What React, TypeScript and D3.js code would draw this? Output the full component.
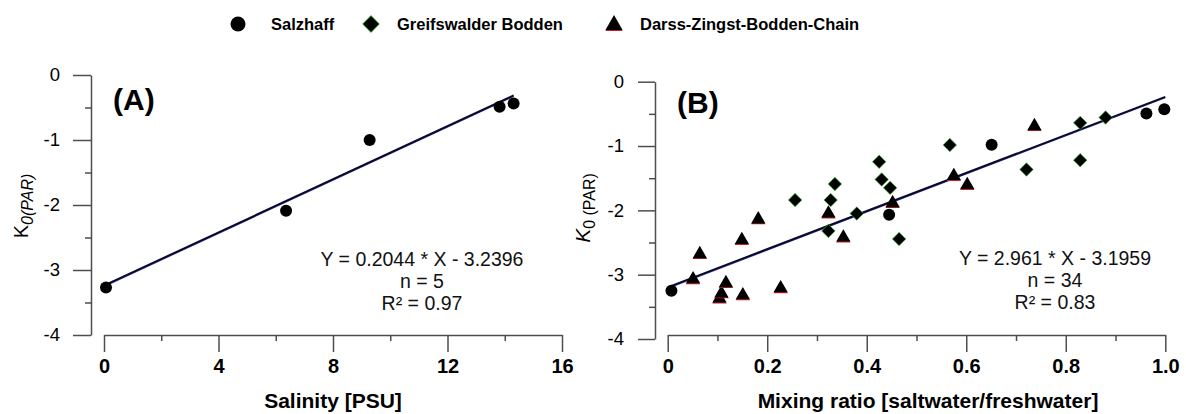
import React, { useEffect, useRef } from 'react';
import * as d3 from 'd3';

// panel A: Salzhaff, salinity vs K0(PAR)
const salinityA = [0.07, 6.36, 9.28, 13.82, 14.31];
const kA = [-3.27, -2.09, -1.0, -0.49, -0.44];

// panel B: mixing ratio vs K0(PAR), three lagoons
const salzhaffMix = [0.0075, 0.445, 0.651, 0.962, 0.998];
const salzhaffK = [-3.25, -2.07, -0.98, -0.495, -0.43];

const greifMix = [0.256, 0.323, 0.3275, 0.336, 0.38, 0.425, 0.43, 0.447, 0.465, 0.567, 0.721, 0.829, 0.829, 0.88];
const greifK = [-1.84, -2.32, -1.84, -1.59, -2.05, -1.245, -1.52, -1.65, -2.446, -0.984, -1.365, -1.22, -0.64, -0.557];

const darssMix = [0.051, 0.0645, 0.104, 0.108, 0.117, 0.149, 0.151, 0.182, 0.227, 0.323, 0.353, 0.452, 0.575, 0.602, 0.737];
const darssK = [-3.07, -2.68, -3.37, -3.29, -3.13, -2.46, -3.32, -2.14, -3.21, -2.047, -2.42, -1.886, -1.465, -1.605, -0.69];

const legendLabels = ['Salzhaff', 'Greifswalder Bodden', 'Darss-Zingst-Bodden-Chain'];

// regressions
const regA = { slope: 0.2044, intercept: -3.2396, label: 'Y = 0.2044 * X - 3.2396', n: 'n = 5', r2: 'R² = 0.97' };
const regB = { slope: 2.961, intercept: -3.1959, label: 'Y = 2.961 * X - 3.1959', n: 'n = 34', r2: 'R² = 0.83' };

// ticks
const yTicks = [0, -1, -2, -3, -4];
const yMinor = [-0.5, -1.5, -2.5, -3.5];
const xTicksA = [0, 4, 8, 12, 16];
const xMinorA = [2, 6, 10, 14];
const xTicksB = [0, 0.2, 0.4, 0.6, 0.8, 1.0];
const xLabelsB = ['0', '0.2', '0.4', '0.6', '0.8', '1.0'];
const xMinorB = [0.1, 0.3, 0.5, 0.7, 0.9];

const FONT = '"Liberation Sans", Arial, sans-serif';
const AXIS = '#4d4d4d';

const xA = d3.scaleLinear().domain([0, 16]).range([104, 562]);
const yA = d3.scaleLinear().domain([0, -4]).range([75, 335]);
const xB = d3.scaleLinear().domain([0, 1]).range([667.7, 1165.3]);
const yB = d3.scaleLinear().domain([0, -4]).range([81.7, 339]);

const circlePath = d3.symbol(d3.symbolCircle, Math.PI * 36)();
const squarePath = d3.symbol(d3.symbolSquare, 90)();
const trianglePath = d3.symbol(d3.symbolTriangle, 88)();

const styleAxis = (g, size, weight) => {
	g.select('.domain').attr('stroke', AXIS).attr('stroke-width', 1.5);
	g.selectAll('.tick line').attr('stroke', AXIS).attr('stroke-width', 1.5);
	g.selectAll('.tick text')
		.attr('fill', '#000')
		.style('font-family', FONT)
		.style('font-size', size + 'px')
		.style('font-weight', weight);
};

const drawAxes = (svg) => {
	// panel A
	svg.select('.ya-minor').attr('transform', 'translate(91,0)')
		.call(d3.axisLeft(yA).tickValues(yMinor).tickSize(6).tickFormat(() => ''))
		.call((g) => g.select('.domain').remove())
		.call((g) => styleAxis(g, 18, 'normal'));
	svg.select('.ya').attr('transform', 'translate(91,0)')
		.call(d3.axisLeft(yA).tickValues(yTicks).tickSize(18).tickSizeOuter(0).tickPadding(13).tickFormat((d) => String(d)))
		.call((g) => styleAxis(g, 18.5, 'normal'));
	svg.select('.xa-minor').attr('transform', 'translate(0,335)')
		.call(d3.axisBottom(xA).tickValues(xMinorA).tickSize(6).tickFormat(() => ''))
		.call((g) => g.select('.domain').remove())
		.call((g) => styleAxis(g, 18, 'normal'));
	svg.select('.xa').attr('transform', 'translate(0,335)')
		.call(d3.axisBottom(xA).tickValues(xTicksA).tickSize(17).tickSizeOuter(0).tickPadding(7).tickFormat((d) => String(d)))
		.call((g) => styleAxis(g, 20, 'bold'));

	// panel B
	svg.select('.yb-minor').attr('transform', 'translate(655,0)')
		.call(d3.axisLeft(yB).tickValues(yMinor).tickSize(6).tickFormat(() => ''))
		.call((g) => g.select('.domain').remove())
		.call((g) => styleAxis(g, 18, 'normal'));
	svg.select('.yb').attr('transform', 'translate(655,0)')
		.call(d3.axisLeft(yB).tickValues(yTicks).tickSize(17).tickSizeOuter(0).tickPadding(14).tickFormat((d) => String(d)))
		.call((g) => styleAxis(g, 18.5, 'normal'));
	svg.select('.xb-minor').attr('transform', 'translate(0,335)')
		.call(d3.axisBottom(xB).tickValues(xMinorB).tickSize(6).tickFormat(() => ''))
		.call((g) => g.select('.domain').remove())
		.call((g) => styleAxis(g, 18, 'normal'));
	svg.select('.xb').attr('transform', 'translate(0,335)')
		.call(d3.axisBottom(xB).tickValues(xTicksB).tickSize(17).tickSizeOuter(0).tickPadding(7).tickFormat((d, i) => xLabelsB[i]))
		.call((g) => styleAxis(g, 20, 'bold'));
};

function Circle({ x, y, s = 1 }) {
	return <path d={circlePath} transform={`translate(${x},${y}) scale(${s})`} fill="#000" />;
}

function Diamond({ x, y, s = 1 }) {
	return (
		<path
			d={squarePath}
			transform={`translate(${x},${y}) rotate(45) scale(${s})`}
			fill="#000"
			stroke="#2fb82f"
			strokeWidth={0.6}
		/>
	);
}

function Triangle({ x, y, s = 1 }) {
	return (
		<g transform={`translate(${x},${y}) scale(${s})`}>
			<path d={trianglePath} transform="translate(0,0.9)" fill="#c82020" />
			<path d={trianglePath} fill="#000" />
		</g>
	);
}

function RegLine({ reg, xs, x, y }) {
	const ext = d3.extent(xs);
	const line = d3.line().x((d) => x(d)).y((d) => y(reg.slope * d + reg.intercept));
	return (
		<g fill="none">
			<path d={line(ext)} stroke="#4848d8" strokeWidth={1.2} transform="translate(0,1)" />
			<path d={line(ext)} stroke="#0a0a22" strokeWidth={2} />
		</g>
	);
}

function Annotation({ reg, cx, y0 }) {
	return (
		<g fontFamily={FONT} fontSize={19.5} textAnchor="middle" fill="#111">
			<text x={cx} y={y0}>{reg.label}</text>
			<text x={cx} y={y0 + 22}>{reg.n}</text>
			<text x={cx} y={y0 + 44}>{reg.r2}</text>
		</g>
	);
}

export default function App() {
	const ref = useRef(null);
	useEffect(() => {
		drawAxes(d3.select(ref.current));
	}, []);

	return (
		<svg
			ref={ref}
			width={1186}
			height={414}
			style={{ position: 'absolute', left: 0, top: 0, background: '#fff' }}
		>
			{/* legend */}
			<g fontFamily={FONT} fontWeight="bold" fontSize={16.5}>
				<Circle x={238} y={24} s={1.25} />
				<text x={271} y={30}>{legendLabels[0]}</text>
				<Diamond x={371} y={24} s={1.25} />
				<text x={397} y={30}>{legendLabels[1]}</text>
				<Triangle x={614} y={25} s={1.2} />
				<text x={640} y={30}>{legendLabels[2]}</text>
			</g>

			{/* panel A */}
			<g className="ya-minor" />
			<g className="ya" />
			<g className="xa-minor" />
			<g className="xa" />
			<text x={113} y={110} fontFamily={FONT} fontWeight="bold" fontSize={30}>(A)</text>
			<text transform="translate(28,206) rotate(-90)" textAnchor="middle" fontFamily={FONT} fontSize={20}>
				K<tspan fontSize={16} fontStyle="italic" dy={5}>0(PAR)</tspan>
			</text>
			<text x={333} y={408} textAnchor="middle" fontFamily={FONT} fontWeight="bold" fontSize={21}>Salinity [PSU]</text>
			<RegLine reg={regA} xs={salinityA} x={xA} y={yA} />
			<Annotation reg={regA} cx={422} y0={266} />
			{salinityA.map((v, i) => (
				<Circle key={i} x={xA(v)} y={yA(kA[i])} />
			))}

			{/* panel B */}
			<g className="yb-minor" />
			<g className="yb" />
			<g className="xb-minor" />
			<g className="xb" />
			<text x={677} y={113} fontFamily={FONT} fontWeight="bold" fontSize={30}>(B)</text>
			<text transform="translate(590,208) rotate(-90)" textAnchor="middle" fontFamily={FONT} fontSize={21}>
				<tspan fontStyle="italic">K</tspan>
				<tspan fontSize={16} dy={5}>0 (PAR)</tspan>
			</text>
			<text x={928} y={408} textAnchor="middle" fontFamily={FONT} fontWeight="bold" fontSize={21}>
				Mixing ratio [saltwater/freshwater]
			</text>
			<RegLine reg={regB} xs={[0.0075, 1.0]} x={xB} y={yB} />
			<Annotation reg={regB} cx={1055} y0={265} />
			{darssMix.map((v, i) => (
				<Triangle key={'t' + i} x={xB(v)} y={yB(darssK[i])} />
			))}
			{greifMix.map((v, i) => (
				<Diamond key={'d' + i} x={xB(v)} y={yB(greifK[i])} />
			))}
			{salzhaffMix.map((v, i) => (
				<Circle key={'c' + i} x={xB(v)} y={yB(salzhaffK[i])} />
			))}
		</svg>
	);
}
